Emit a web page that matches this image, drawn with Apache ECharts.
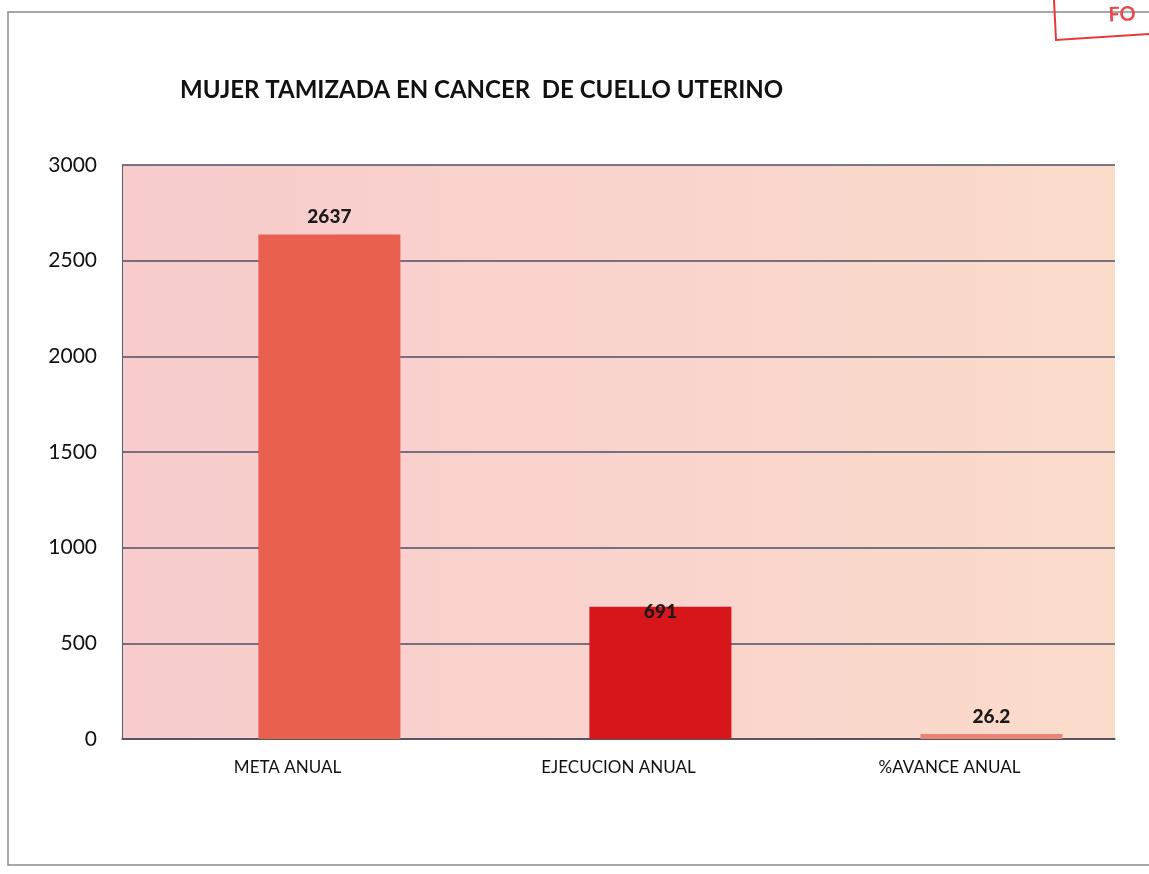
<!DOCTYPE html>
<html>
<head>
<meta charset="utf-8">
<title>MUJER TAMIZADA EN CANCER DE CUELLO UTERINO</title>
<script src="https://cdn.jsdelivr.net/npm/echarts@6/dist/echarts.min.js"></script>
<style>
  html, body { margin: 0; padding: 0; background: #ffffff; }
  #chart { width: 1149px; height: 874px; }
</style>
</head>
<body>
<div id="chart"></div>
<script>
// Chart data
const categories = ['META ANUAL', 'EJECUCION ANUAL', '%AVANCE ANUAL'];
const values = [2637, 691, 26.2];
const barColors = ['#e9604f', '#d7161b', '#e98476'];
const yTicks = [0, 500, 1000, 1500, 2000, 2500, 3000];
const titleText = 'MUJER TAMIZADA EN CANCER  DE CUELLO UTERINO';

const chart = echarts.init(document.getElementById('chart'), null, { renderer: 'canvas' });

const barData = values.map((v, i) => {
  const item = { value: v, itemStyle: { color: barColors[i] } };
  if (i === 1) {
    // this label sits on the top edge of its bar
    item.label = { position: 'insideTop', distance: -4 };
  }
  return item;
});

const option = {
  backgroundColor: '#ffffff',
  animation: false,
  title: {
    text: titleText,
    left: 175,
    top: 73,
    textStyle: {
      fontFamily: 'Lato',
      fontWeight: 'bold',
      fontSize: 24,
      color: '#111111'
    }
  },
  grid: {
    left: 122,
    right: 34,
    top: 165,
    bottom: 135,
    show: true,
    borderWidth: 0,
    backgroundColor: new echarts.graphic.LinearGradient(0, 0, 1, 0, [
      { offset: 0, color: '#f8cccd' },
      { offset: 0.5, color: '#f9d3cd' },
      { offset: 1, color: '#fbdcca' }
    ])
  },
  xAxis: {
    type: 'category',
    data: categories,
    axisTick: { show: false },
    axisLine: { show: true, lineStyle: { color: '#4a4a5a', width: 1.5 } },
    axisLabel: {
      margin: 20,
      fontFamily: 'Lato',
      fontSize: 17,
      color: '#111111'
    }
  },
  yAxis: {
    type: 'value',
    min: yTicks[0],
    max: yTicks[yTicks.length - 1],
    interval: 500,
    axisLine: { show: true, lineStyle: { color: '#5a5a6a', width: 1 } },
    axisTick: { show: false },
    axisLabel: {
      margin: 25,
      fontFamily: 'Lato',
      fontSize: 21,
      color: '#111111',
      formatter: (v) => String(v)
    },
    splitLine: { show: true, lineStyle: { color: '#4e4e64', width: 1.5 } }
  },
  series: [
    {
      // empty companion series: shifts the visible bars to the right of the category centre
      type: 'bar',
      data: categories.map(() => '-'),
      barWidth: 142,
      barGap: '-41%',
      silent: true
    },
    {
      type: 'bar',
      data: barData,
      barWidth: 142,
      barGap: '-41%',
      label: {
        show: true,
        position: 'top',
        distance: 8,
        fontFamily: 'Lato',
        fontWeight: 900,
        fontSize: 19,
        color: '#1a1a1a'
      }
    }
  ],
  graphic: [
    {
      // outer chart frame
      type: 'rect',
      shape: { x: 8, y: 12, width: 1160, height: 853 },
      style: { fill: 'none', stroke: '#8a8a8a', lineWidth: 1.5 },
      silent: true
    },
    {
      // red stamp corner
      type: 'polyline',
      shape: { points: [[1054, 0], [1056, 40], [1149, 34]] },
      style: { fill: 'none', stroke: '#e8383a', lineWidth: 2 },
      silent: true
    },
    {
      type: 'text',
      left: 1108,
      top: 4,
      rotation: 0.04,
      style: {
        text: 'FO',
        fontFamily: 'Lato',
        fontWeight: 'bold',
        fontSize: 20,
        fill: '#e84a4c'
      },
      silent: true
    }
  ]
};

chart.setOption(option);
</script>
</body>
</html>
